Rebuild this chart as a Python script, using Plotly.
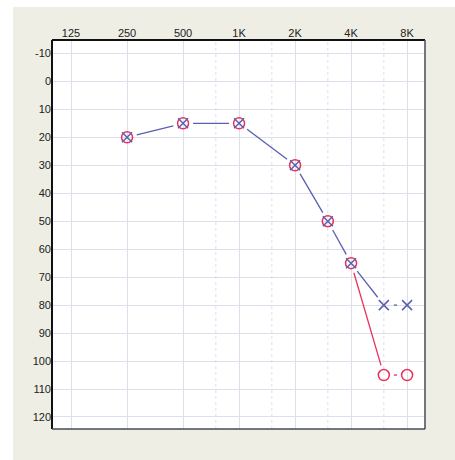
import math
import plotly.graph_objects as go

# Data
freqs = [250, 500, 1000, 2000, 3000, 4000, 6000, 8000]
right_ear_db = [20, 15, 15, 30, 50, 65, 105, 105]   # red O
left_ear_db = [20, 15, 15, 30, 50, 65, 80, 80]      # blue X
tick_freqs = [125, 250, 500, 1000, 2000, 4000, 8000]
tick_labels = ["125", "250", "500", "1K", "2K", "4K", "8K"]
minor_freqs = [750, 1500, 3000, 6000]
db_ticks = list(range(-10, 121, 10))
db_labels = [str(v) for v in db_ticks]

RED = "#e8325c"
BLUE = "#5a60ae"
GRID = "#dde0ea"

# pixel scale used to leave gaps around markers
PX_PER_LOG10 = 56 / math.log10(2)
PX_PER_DB = 2.8
GAP = 10.0


def gapped(fs, ds, skip_like=None):
    xs, ys = [], []
    for i in range(len(fs) - 1):
        if skip_like is not None and ds[i] == skip_like[i] and ds[i + 1] == skip_like[i + 1]:
            continue
        u1, v1 = math.log10(fs[i]) * PX_PER_LOG10, ds[i] * PX_PER_DB
        u2, v2 = math.log10(fs[i + 1]) * PX_PER_LOG10, ds[i + 1] * PX_PER_DB
        L = math.hypot(u2 - u1, v2 - v1)
        if L <= 2 * GAP:
            continue
        du, dv = (u2 - u1) / L, (v2 - v1) / L
        a = (u1 + du * GAP, v1 + dv * GAP)
        b = (u2 - du * GAP, v2 - dv * GAP)
        if L - 2 * GAP < 1.5:
            m = ((a[0] + b[0]) / 2, (a[1] + b[1]) / 2)
            a = (m[0] - du * 0.75, m[1] - dv * 0.75)
            b = (m[0] + du * 0.75, m[1] + dv * 0.75)
        for p in (a, b):
            xs.append(10 ** (p[0] / PX_PER_LOG10))
            ys.append(p[1] / PX_PER_DB)
        xs.append(None)
        ys.append(None)
    return xs, ys


fig = go.Figure()
rx, ry = gapped(freqs, right_ear_db, skip_like=left_ear_db)
lx, ly = gapped(freqs, left_ear_db)
fig.add_trace(go.Scatter(x=rx, y=ry, mode="lines", line=dict(color=RED, width=1.3),
                         hoverinfo="skip", showlegend=False))
fig.add_trace(go.Scatter(x=lx, y=ly, mode="lines", line=dict(color=BLUE, width=1.3),
                         hoverinfo="skip", showlegend=False))
fig.add_trace(go.Scatter(x=freqs, y=right_ear_db, mode="markers",
                         marker=dict(symbol="circle-open", size=11, color=RED,
                                     line=dict(width=1.5, color=RED)),
                         showlegend=False))
fig.add_trace(go.Scatter(x=freqs, y=left_ear_db, mode="markers",
                         marker=dict(symbol="x-thin-open", size=10, color=BLUE,
                                     line=dict(width=1.5, color=BLUE)),
                         showlegend=False))

W, H = 455, 460
ML, MR, MT, MB = 52, 30, 40, 31
PW, PH = W - ML - MR, H - MT - MB

shapes = []
# beige frame background
shapes.append(dict(type="rect", xref="paper", yref="paper", layer="below",
                   x0=(13 - ML) / PW, x1=1 + (MR + 10) / PW, y0=-(MB + 10) / PH, y1=1 + (MT - 7) / PH,
                   fillcolor="#efeee4", line=dict(width=0)))
shapes.append(dict(type="rect", xref="paper", yref="paper", layer="below",
                   x0=0, x1=1, y0=0, y1=1, fillcolor="white", line=dict(width=0)))
for f in minor_freqs:
    shapes.append(dict(type="line", xref="x", yref="paper", x0=f, x1=f, y0=0, y1=1,
                       layer="below", line=dict(color=GRID, width=1, dash="dot")))
# border: dark top/left, grey right/bottom
shapes.append(dict(type="line", xref="paper", yref="paper", x0=0, x1=1, y0=1, y1=1,
                   line=dict(color="#111111", width=2)))
shapes.append(dict(type="line", xref="paper", yref="paper", x0=0, x1=0, y0=0, y1=1,
                   line=dict(color="#111111", width=2)))
shapes.append(dict(type="line", xref="paper", yref="paper", x0=1, x1=1, y0=0, y1=1,
                   line=dict(color="#454b5a", width=1.5)))
shapes.append(dict(type="line", xref="paper", yref="paper", x0=0, x1=1, y0=0, y1=0,
                   line=dict(color="#454b5a", width=1.5)))

lx0 = math.log10(125) - 0.34 * math.log10(2)
lx1 = math.log10(125) + 6.32 * math.log10(2)

fig.update_layout(
    width=W, height=H,
    margin=dict(l=ML, r=MR, t=MT, b=MB, autoexpand=False),
    paper_bgcolor="white",
    plot_bgcolor="rgba(0,0,0,0)",
    font=dict(family="Liberation Sans, Arial, sans-serif", size=11, color="#222222"),
    shapes=shapes,
    xaxis=dict(type="log", side="top", range=[lx0, lx1],
               tickmode="array", tickvals=tick_freqs, ticktext=tick_labels,
               showgrid=True, gridcolor=GRID, gridwidth=1, ticks="", ticklen=0,
               zeroline=False, showline=False, fixedrange=True),
    yaxis=dict(range=[124.3, -14.8], tickmode="array", tickvals=db_ticks, ticktext=db_labels,
               showgrid=True, gridcolor=GRID, gridwidth=1, ticks="",
               zeroline=False, showline=False, fixedrange=True),
)

fig.write_html("out.html", config={"displayModeBar": False},
               post_script="document.body.style.margin='0';document.body.style.overflow='hidden';")
